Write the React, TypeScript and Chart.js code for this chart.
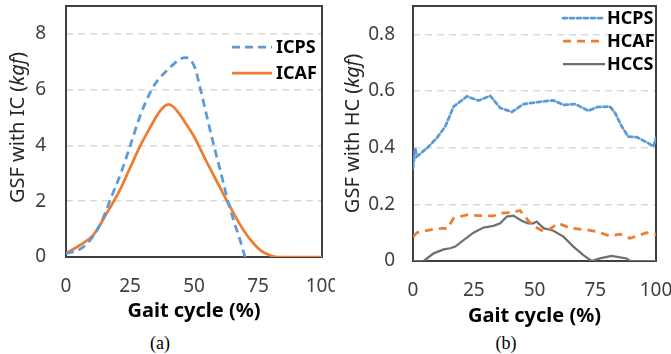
import React, { useEffect, useRef } from "react";
import { Chart, registerables } from "chart.js";
Chart.register(...registerables);

// ---------- data ----------
const xTicks = [0, 25, 50, 75, 100];
const icYTicks = [0, 2, 4, 6, 8];
const hcYTicks = [0, 0.2, 0.4, 0.6, 0.8];

const icpsX = [0, 5.5, 10, 13.9, 17.8, 21.7, 25, 28.9, 33.5, 36.7, 40.6, 44.5, 46.5, 48.5, 50.5, 52.3, 55, 57.5, 60.2, 62.8, 65.4, 68, 69.9];
const icpsY = [0.13, 0.28, 0.67, 1.27, 2.17, 3.07, 3.97, 5.05, 6.01, 6.43, 6.79, 7.09, 7.15, 7.08, 6.75, 6.1, 5.05, 4.09, 3.13, 2.17, 1.33, 0.61, 0];

const icafX = [0, 5.5, 10.7, 15.9, 21.1, 25, 28.9, 32.8, 36.7, 40, 42, 44, 46, 50, 55, 60, 64, 68, 72, 76, 80, 82.5, 100];
const icafY = [0.13, 0.43, 0.79, 1.57, 2.41, 3.19, 3.97, 4.63, 5.23, 5.47, 5.38, 5.17, 4.9, 4.32, 3.4, 2.52, 1.82, 1.16, 0.62, 0.24, 0.05, 0, 0];

const hcpsX = [0, 0.9, 1.6, 5.7, 9.8, 13.3, 16.7, 22.2, 27, 31.8, 35.9, 40.7, 45.5, 51.6, 57.8, 61.9, 66.7, 72.2, 75.6, 81.1, 83.2, 85.9, 88.6, 92.1, 96.8, 98.9, 100];
const hcpsY = [0.328, 0.398, 0.369, 0.398, 0.434, 0.475, 0.545, 0.581, 0.566, 0.583, 0.54, 0.526, 0.554, 0.561, 0.567, 0.551, 0.554, 0.53, 0.543, 0.545, 0.522, 0.475, 0.439, 0.437, 0.416, 0.404, 0.434];

const hcafX = [0, 1.6, 7.1, 12.6, 14, 16.7, 22.2, 27.7, 33.1, 35.9, 40, 44.1, 45.5, 48.9, 53.7, 55.7, 59.8, 64.7, 71.5, 75.6, 81.1, 85.2, 89.3, 93.4, 96.1, 100];
const hcafY = [0.085, 0.1, 0.11, 0.116, 0.113, 0.151, 0.163, 0.16, 0.159, 0.169, 0.171, 0.178, 0.163, 0.127, 0.104, 0.11, 0.133, 0.116, 0.11, 0.104, 0.088, 0.095, 0.08, 0.092, 0.1, 0.094];

const hccsX = [0, 4.4, 8.5, 12.6, 15.3, 17.4, 20.8, 24.9, 29, 33.1, 35.9, 38.6, 41.3, 44.7, 47.4, 49.5, 50.9, 53.7, 57.8, 61.9, 66, 70.1, 73.5, 76.9, 81.7, 85.2, 87.9, 89.3, 100];
const hccsY = [0, 0, 0.027, 0.041, 0.045, 0.051, 0.074, 0.1, 0.118, 0.124, 0.133, 0.157, 0.16, 0.142, 0.133, 0.133, 0.139, 0.116, 0.107, 0.086, 0.051, 0.021, 0, 0.009, 0.018, 0.013, 0.009, 0, 0];

const xTitle = "Gait cycle (%)";
const icTitleParts = [{ t: "GSF with IC (", i: false }, { t: "kgf", i: true }, { t: ")", i: false }];
const hcTitleParts = [{ t: "GSF with HC (", i: false }, { t: "kgf", i: true }, { t: ")", i: false }];

const FONT = "'Noto Sans', sans-serif";
const pts = (xs: number[], ys: number[]) => xs.map((x, i) => ({ x, y: ys[i] }));

// ---------- plugins ----------
const framePlugin = {
  id: "frame",
  beforeDatasetsDraw(chart: any) {
    const { ctx, chartArea: a } = chart;
    ctx.save();
    ctx.strokeStyle = "#404040";
    ctx.lineWidth = 2;
    ctx.strokeRect(a.left, a.top, a.right - a.left, a.bottom - a.top);
    ctx.restore();
  },
};

const yTitlePlugin = {
  id: "ytitle",
  afterDraw(chart: any, _args: any, opts: any) {
    const { ctx, chartArea: a } = chart;
    const parts = opts.parts as { t: string; i: boolean }[];
    ctx.save();
    ctx.translate(opts.x, (a.top + a.bottom) / 2 + (opts.dy || 0));
    ctx.rotate(-Math.PI / 2);
    ctx.textBaseline = "middle";
    ctx.fillStyle = "#262626";
    const fonts = parts.map((p) => `${p.i ? "italic " : ""}${opts.size}px ${FONT}`);
    let total = 0;
    const ws = parts.map((p, k) => {
      ctx.font = fonts[k];
      const w = ctx.measureText(p.t).width;
      total += w;
      return w;
    });
    let x = -total / 2;
    parts.forEach((p, k) => {
      ctx.font = fonts[k];
      ctx.fillText(p.t, x, 0);
      x += ws[k];
    });
    ctx.restore();
  },
};

const legendPlugin = {
  id: "innerLegend",
  afterDraw(chart: any, _args: any, opts: any) {
    const { ctx } = chart;
    ctx.save();
    chart.data.datasets.forEach((ds: any, k: number) => {
      const y = opts.y + k * opts.spacing;
      ctx.beginPath();
      ctx.strokeStyle = ds.borderColor;
      ctx.lineWidth = ds.borderWidth;
      ctx.lineCap = ds.borderCapStyle || "butt";
      ctx.setLineDash(ds.borderDash || []);
      ctx.moveTo(opts.x, y);
      ctx.lineTo(opts.x + opts.len, y);
      ctx.stroke();
      ctx.setLineDash([]);
      ctx.fillStyle = "#000";
      ctx.font = `bold ${opts.size}px ${FONT}`;
      ctx.textBaseline = "middle";
      ctx.fillText(ds.label, opts.x + opts.len + opts.gap, y + 1);
    });
    ctx.restore();
  },
};

function makeOptions(cfg: any) {
  return {
    responsive: false,
    animation: false as const,
    devicePixelRatio: 1,
    layout: { padding: { top: 6, right: cfg.padRight, left: 0, bottom: 0 } },
    plugins: {
      legend: { display: false },
      tooltip: { enabled: false },
      ytitle: cfg.ytitle,
      innerLegend: cfg.legend,
    },
    elements: { point: { radius: 0 } },
    scales: {
      x: {
        type: "linear" as const,
        min: 0,
        max: 100,
        afterBuildTicks: (s: any) => { s.ticks = xTicks.map((v) => ({ value: v })); },
        afterFit: (s: any) => { s.height = cfg.xHeight; s.paddingLeft = 0; s.paddingRight = 0; s.paddingTop = 0; s.paddingBottom = 0; },
        ticks: { padding: cfg.xPad, color: "#404040", font: { family: FONT, size: 19 }, maxRotation: 0 },
        grid: { display: false },
        border: { display: false },
        title: {
          display: true,
          text: xTitle,
          color: "#000",
          font: { family: FONT, size: 20, weight: "bold" as const },
          padding: { top: 0, bottom: cfg.xTitlePad },
        },
      },
      y: {
        min: 0,
        max: cfg.ymax,
        afterBuildTicks: (s: any) => { s.ticks = cfg.yTicks.map((v: number) => ({ value: v })); },
        afterFit: (s: any) => { s.width = cfg.yWidth; s.paddingLeft = 0; s.paddingRight = 0; s.paddingTop = 0; s.paddingBottom = 0; },
        ticks: { padding: cfg.yPad, color: "#404040", font: { family: FONT, size: 19 } },
        grid: {
          drawTicks: false,
          color: (c: any) => (c.tick && c.tick.value === 0 ? "rgba(0,0,0,0)" : "#d9d9d9"),
          lineWidth: 1.5,
        },
        border: { display: false, dash: [7, 5] },
      },
    },
  };
}

function ICChart() {
  const ref = useRef<HTMLCanvasElement>(null);
  useEffect(() => {
    const chart = new Chart(ref.current!, {
      type: "line",
      data: {
        datasets: [
          { label: "ICPS", data: pts(icpsX, icpsY), borderColor: "#5B9BD5", borderWidth: 2.75, borderDash: [8, 5], cubicInterpolationMode: "monotone", fill: false },
          { label: "ICAF", data: pts(icafX, icafY), borderColor: "#ED7D31", borderWidth: 2.75, cubicInterpolationMode: "monotone", fill: false },
        ],
      },
      options: makeOptions({
        padRight: 13, xHeight: 73, yWidth: 66, xPad: 10, yPad: 20, xTitlePad: 7, ymax: 9, yTicks: icYTicks,
        ytitle: { parts: icTitleParts, x: 18, size: 20, dy: -4 },
        legend: { x: 232, y: 47, spacing: 26, len: 40, gap: 4, size: 18 },
      }) as any,
      plugins: [framePlugin, yTitlePlugin, legendPlugin],
    });
    return () => chart.destroy();
  }, []);
  return <canvas ref={ref} width={335} height={330} style={{ position: "absolute", left: 0, top: 0, width: 335, height: 330 }} />;
}

function HCChart() {
  const ref = useRef<HTMLCanvasElement>(null);
  useEffect(() => {
    const chart = new Chart(ref.current!, {
      type: "line",
      data: {
        datasets: [
          { label: "HCPS", data: pts(hcpsX, hcpsY), borderColor: "#5B9BD5", borderWidth: 2.75, borderDash: [4, 3], borderCapStyle: "round", tension: 0, fill: false },
          { label: "HCAF", data: pts(hcafX, hcafY), borderColor: "#ED7D31", borderWidth: 2.75, borderDash: [8, 6], tension: 0, fill: false },
          { label: "HCCS", data: pts(hccsX, hccsY), borderColor: "#707070", borderWidth: 2.25, tension: 0, fill: false },
        ],
      },
      options: makeOptions({
        padRight: 15, xHeight: 69, yWidth: 78, xPad: 10, yPad: 18, xTitlePad: 2, ymax: 0.9, yTicks: hcYTicks,
        ytitle: { parts: hcTitleParts, x: 18, size: 20, dy: 0 },
        legend: { x: 228, y: 18, spacing: 23, len: 42, gap: 2, size: 18 },
      }) as any,
      plugins: [framePlugin, yTitlePlugin, legendPlugin],
    });
    return () => chart.destroy();
  }, []);
  return <canvas ref={ref} width={336} height={330} style={{ position: "absolute", left: 335, top: 0, width: 336, height: 330 }} />;
}

const capStyle: React.CSSProperties = {
  position: "absolute",
  top: 332,
  width: 60,
  textAlign: "center",
  fontFamily: "'Liberation Serif', 'Times New Roman', serif",
  fontSize: 18,
  lineHeight: "22px",
  color: "#000",
};

export default function App() {
  return (
    <div style={{ position: "fixed", left: 0, top: 0, width: 671, height: 354, background: "#fff", overflow: "hidden" }}>
      <ICChart />
      <HCChart />
      <div style={{ ...capStyle, left: 160 - 30 }}>(a)</div>
      <div style={{ ...capStyle, left: 506 - 30 }}>(b)</div>
    </div>
  );
}
